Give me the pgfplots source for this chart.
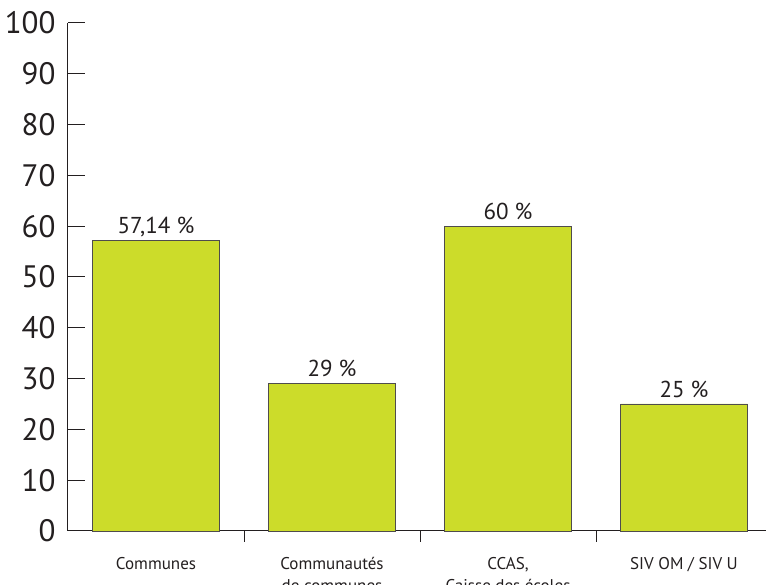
\documentclass[border=0pt]{standalone}
\usepackage{pgfplots}
\pgfplotsset{compat=1.18}
\usepackage{fontspec}
\setmainfont{PT Sans}
\definecolor{barfill}{RGB}{204,220,42}
\definecolor{ink}{RGB}{35,31,32}
\begin{document}
\begin{tikzpicture}
\begin{axis}[
  at={(0,0)}, anchor=south west,
  x=176pt, y=5.08pt,
  xmin=-0.5, xmax=3.47, ymin=0, ymax=100,
  axis x line=bottom, axis y line=left,
  axis line style={-, line width=1pt, color=ink},
  tick align=inside,
  tick style={line width=1pt, color=ink},
  major tick length=17pt,
  minor tick length=11pt,
  ybar, bar width=127pt,
  clip=false,
  ytick={0,10,...,100},
  xtick={0,1,2,3},
  xticklabels={Communes\\\mbox{}, Communautés\\de communes, {CCAS,\\Caisse des écoles}, SIV OM / SIV U\\\mbox{}},
  minor xtick={0.5,1.5,2.5},
  major x tick style={draw=none},
  /pgf/number format/assume math mode=true,
  yticklabel style={font=\fontsize{31}{36}\selectfont, text=ink, xshift=-9pt},
  xticklabel style={font=\fontsize{17}{22}\selectfont, text=ink, align=center, anchor=base, yshift=-44pt},
  nodes near coords,
  point meta=explicit symbolic,
  every node near coord/.append style={font=\fontsize{23}{27}\selectfont, text=ink, anchor=south, text depth=0pt, yshift=3pt},
]
\addplot[fill=barfill, draw=ink!80, line width=0.8pt] coordinates {
  (0,57.14) [57,14 \%]
  (1,29) [29 \%]
  (2,60) [60 \%]
  (3,25) [25 \%]
};
\end{axis}
\pgfresetboundingbox
\path[use as bounding box] (-68pt,-54pt) rectangle (698pt,531pt);
\end{tikzpicture}
\end{document}
